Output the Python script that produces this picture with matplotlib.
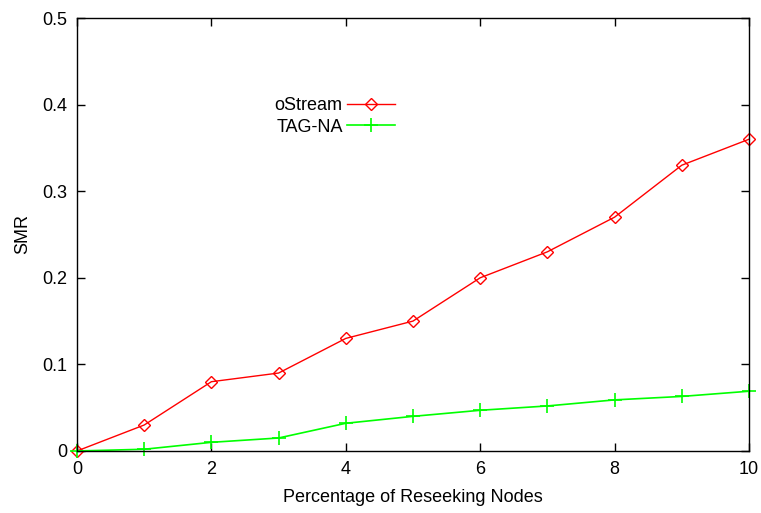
import matplotlib
matplotlib.use("Agg")
import matplotlib.pyplot as plt

# data
x = [0, 1, 2, 3, 4, 5, 6, 7, 8, 9, 10]
ostream = [0, 0.03, 0.08, 0.09, 0.13, 0.15, 0.20, 0.23, 0.27, 0.33, 0.36]
tag_na = [0, 0.002, 0.01, 0.015, 0.032, 0.04, 0.047, 0.052, 0.059, 0.063, 0.069]

plt.rcParams['font.family'] = ['Liberation Sans', 'DejaVu Sans']
plt.rcParams['font.size'] = 13

fig = plt.figure(figsize=(7.61, 5.13), dpi=100)
ax = fig.add_axes([0.1012, 0.1209, 0.8830, 0.8440])

ax.plot(x, ostream, '-', color='#ff0000', lw=1, marker='D', markersize=6,
        markerfacecolor='none', markeredgecolor='#ff0000', markeredgewidth=1,
        label='oStream', clip_on=False)
ax.plot(x, tag_na, '-', color='#00ff00', lw=1.2, marker='+', markersize=10,
        markeredgewidth=1.2, label='TAG-NA', clip_on=False)

ax.set_xlim(0, 10)
ax.set_ylim(0, 0.5)
ax.set_xticks([0, 2, 4, 6, 8, 10])
ax.set_yticks([0, 0.1, 0.2, 0.3, 0.4, 0.5])
ax.set_yticklabels(['0', '0.1', '0.2', '0.3', '0.4', '0.5'])
ax.tick_params(direction='in', top=True, right=True, length=6, width=1, pad=7)
for s in ax.spines.values():
    s.set_linewidth(1)

ax.set_xlabel('Percentage of Reseeking Nodes', labelpad=8)
ax.set_ylabel('SMR', labelpad=8)

leg = ax.legend(loc='upper right', bbox_to_anchor=(0.541, 0.842),
                bbox_transform=fig.transFigure, frameon=False, markerfirst=False,
                handlelength=2.67, handletextpad=0.25, labelspacing=0.25)
for t in leg.get_texts():
    t.set_ha('right')

fig.savefig('out.png', dpi=100)
